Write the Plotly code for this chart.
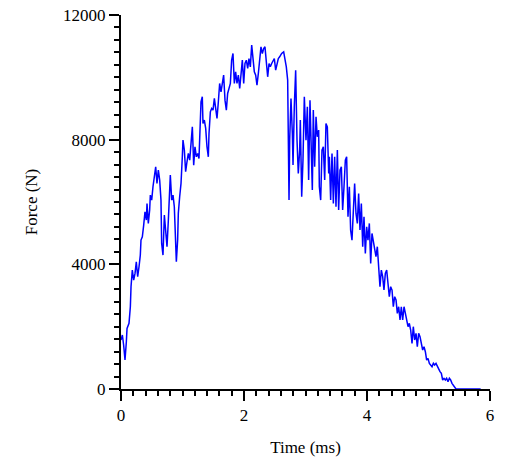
import plotly.graph_objects as go

time_ms = [0,.022,.043,.065,.087,.098,.130,.152,.163,.184,.206,.228,.249,.271,.293,.314,.325,.347,.369,.390,.412,.423,.444,.466,.477,.499,.520,.542,.564,.585,.607,.629,.650,.661,.683,.705,.726,.748,.770,.791,.802,.824,.846,.867,.878,.900,.921,.932,.954,.976,.997,1.008,1.030,1.051,1.073,1.095,1.117,1.138,1.160,1.182,1.203,1.225,1.247,1.268,1.290,1.301,1.322,1.333,1.355,1.377,1.398,1.420,1.431,1.453,1.474,1.496,1.518,1.539,1.561,1.583,1.604,1.626,1.648,1.669,1.691,1.713,1.734,1.756,1.778,1.799,1.821,1.843,1.864,1.886,1.908,1.930,1.951,1.973,1.995,2.016,2.038,2.060,2.081,2.103,2.125,2.146,2.168,2.190,2.211,2.233,2.255,2.276,2.298,2.320,2.341,2.363,2.385,2.407,2.428,2.450,2.472,2.493,2.515,2.537,2.558,2.580,2.612,2.645,2.667,2.688,2.710,2.721,2.732,2.743,2.764,2.786,2.797,2.818,2.840,2.862,2.883,2.905,2.916,2.938,2.959,2.981,3.008,3.030,3.051,3.073,3.095,3.111,3.127,3.149,3.171,3.192,3.214,3.225,3.247,3.268,3.290,3.312,3.333,3.355,3.377,3.388,3.409,3.431,3.453,3.474,3.496,3.518,3.539,3.561,3.583,3.604,3.626,3.648,3.669,3.691,3.713,3.734,3.756,3.778,3.799,3.821,3.843,3.864,3.886,3.908,3.930,3.951,3.973,3.995,4.016,4.038,4.060,4.081,4.103,4.125,4.146,4.168,4.190,4.211,4.233,4.255,4.276,4.298,4.320,4.341,4.363,4.385,4.407,4.428,4.450,4.472,4.493,4.515,4.537,4.558,4.580,4.602,4.623,4.645,4.667,4.688,4.710,4.732,4.753,4.775,4.797,4.818,4.840,4.862,4.883,4.905,4.927,4.949,4.970,4.992,5.014,5.035,5.057,5.079,5.100,5.122,5.144,5.165,5.187,5.209,5.230,5.252,5.274,5.295,5.317,5.339,5.360,5.382,5.404,5.425,5.447,5.848]
force_N = [1571,1732,1411,930,1518,1946,2106,2640,3282,3816,3496,3709,4084,3603,3923,4297,4778,4885,5259,5687,5420,5954,5313,5741,6222,6061,6489,6863,7130,6596,7023,6703,6061,4672,4297,5580,5099,4565,5420,6275,6863,6061,6222,5847,5046,4084,4778,5634,6168,6596,7451,7985,7665,6970,7291,7558,7344,7985,8413,7184,7772,7451,7558,7397,8413,9215,9375,8520,8627,8360,7772,7451,8199,8894,9001,8948,9322,8894,8680,9215,9803,9535,9803,10070,9268,8948,9482,9696,9803,10551,10765,9803,10177,9803,10070,9642,10177,10551,9803,10444,10551,10284,10604,10337,11032,10604,10177,10070,9749,10123,10551,10979,10765,10925,10979,10337,10017,10444,10337,10444,10551,10604,10230,10444,10604,10658,10765,10818,10604,10337,9910,7985,6061,7985,9322,8199,7184,9054,10230,7985,6916,7665,8627,6168,7344,9375,7985,9054,6703,9268,7985,6382,8948,7130,8734,8092,8306,6489,6061,7665,7772,6703,8520,8413,6916,7451,6061,7558,5954,7451,5847,7665,5741,7023,7130,5741,6489,7344,7451,5527,6489,5099,4778,5954,6596,5634,5313,6275,5099,5954,4565,5527,4351,5206,4778,5313,4030,4992,4778,4458,4244,4565,3923,3282,3816,3603,3175,3709,3816,3282,2961,3282,3175,2640,2961,2854,2427,2640,2213,2640,2213,2640,2427,2106,1999,2106,1892,1465,1999,1571,1785,1358,1785,1678,1465,1251,1358,1197,930,983,823,770,716,823,770,823,716,609,556,502,289,342,289,342,235,342,289,182,128,75,0,0]

font = dict(family="Liberation Serif", size=17, color="black")
fig = go.Figure(go.Scatter(x=time_ms, y=force_N, mode="lines",
                           line=dict(color="#0000ff", width=1.5)))
fig.update_layout(
    width=498, height=459, margin=dict(l=113, r=16, t=7, b=78, autoexpand=False),
    plot_bgcolor="white", paper_bgcolor="white", showlegend=False, font=font)
fig.update_xaxes(range=[0, 6], dtick=2, showgrid=False, zeroline=False, automargin=False,
                 showline=True, linecolor="black", linewidth=2, ticklabeloverflow="allow",
                 ticks="outside", ticklen=10, tickwidth=1.5, tickcolor="black",
                 minor=dict(dtick=0.2, ticks="outside", ticklen=5, tickwidth=1.5, tickcolor="black"),
                 title=dict(text="Time (ms)", font=font, standoff=17))
fig.update_yaxes(range=[0, 12000], dtick=4000, tickformat="d", showgrid=False, zeroline=False,
                 automargin=False, ticklabeloverflow="allow",
                 showline=True, linecolor="black", linewidth=2,
                 ticks="outside", ticklen=10, tickwidth=1.5, tickcolor="black",
                 minor=dict(dtick=400, ticks="outside", ticklen=5, tickwidth=1.5, tickcolor="black"),
                 title=dict(text="Force (N)", font=font, standoff=21))
fig.write_html("out.html")
